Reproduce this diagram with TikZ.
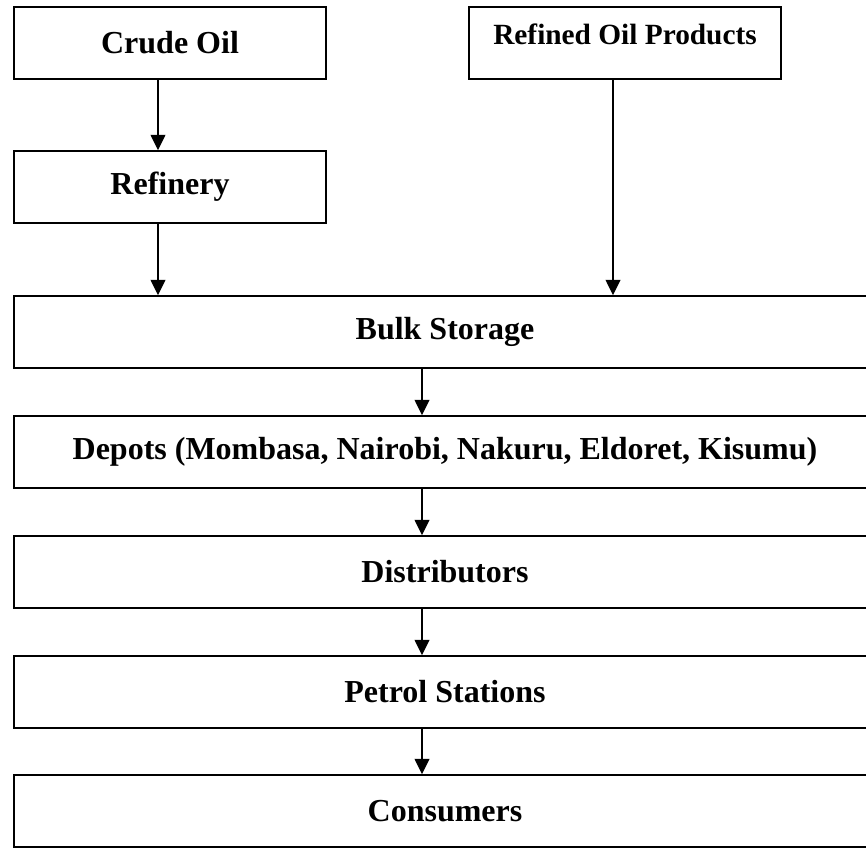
\documentclass[tikz,border=0pt]{standalone}
\usepackage{fontspec}
\setmainfont{Liberation Serif}
\usetikzlibrary{arrows.meta}
\tikzset{
  boxAll/.style={draw, line width=1.1pt, inner sep=0pt, minimum height=54pt, align=center,
    font=\fontsize{24}{28}\selectfont\bfseries},
  boxSmall/.style={minimum width=234pt},
  boxWide/.style={minimum width=646.5pt},
  arrowAll/.style={line width=1.1pt, -{Triangle[length=11.5pt, width=11pt]}}
}

\begin{document}
\begin{tikzpicture}[x=0.75pt, y=-0.75pt]
  \useasboundingbox (0,0) rectangle (866,848);

  \node[boxAll, boxSmall] (crude) at (170,43) {Crude Oil};
  \node[boxAll, boxSmall, font=\fontsize{22}{26}\selectfont\bfseries, text depth=13pt] (refined) at (625,43) {Refined Oil Products};
  \node[boxAll, boxSmall] (refinery) at (170,187) {Refinery};
  \node[boxAll, boxWide] (bulk) at (445,332) {Bulk Storage};
  \node[boxAll, boxWide] (depots) at (445,452) {Depots (Mombasa, Nairobi, Nakuru, Eldoret, Kisumu)};
  \node[boxAll, boxWide] (distrib) at (445,572) {Distributors};
  \node[boxAll, boxWide] (petrol) at (445,692) {Petrol Stations};
  \node[boxAll, boxWide] (consumers) at (445,811) {Consumers};

  \path[arrowAll]
    ([xshift=-9pt]crude.south) edge ([xshift=-9pt]crude.south |- refinery.north)
    ([xshift=-9pt]refinery.south) edge ([xshift=-9pt]refinery.south |- bulk.north)
    ([xshift=-9pt]refined.south) edge ([xshift=-9pt]refined.south |- bulk.north)
    ([xshift=-17.25pt]bulk.south) edge ([xshift=-17.25pt]depots.north)
    ([xshift=-17.25pt]depots.south) edge ([xshift=-17.25pt]distrib.north)
    ([xshift=-17.25pt]distrib.south) edge ([xshift=-17.25pt]petrol.north)
    ([xshift=-17.25pt]petrol.south) edge ([xshift=-17.25pt]consumers.north);
\end{tikzpicture}
\end{document}
